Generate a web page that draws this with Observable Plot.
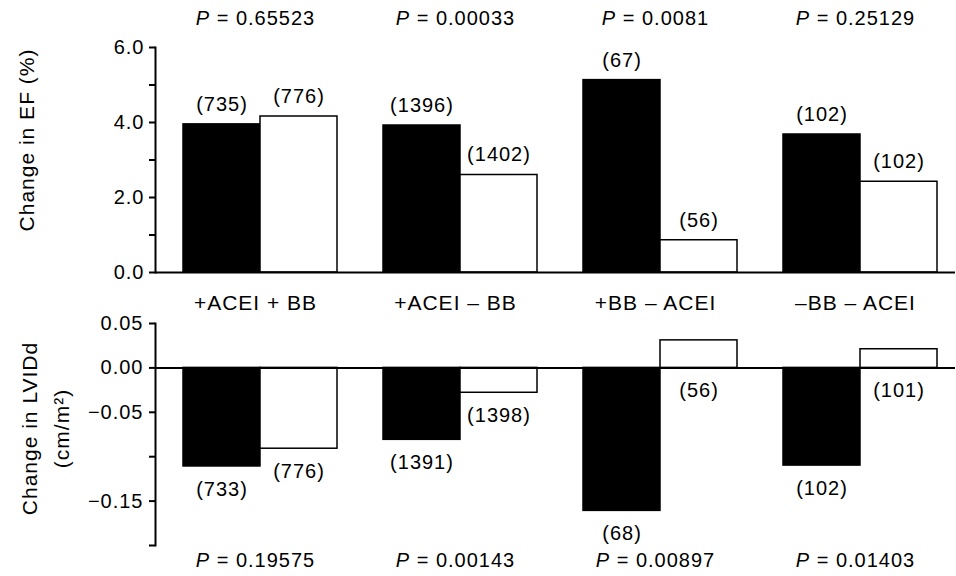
<!DOCTYPE html>
<html><head><meta charset="utf-8">
<script src="https://cdn.jsdelivr.net/npm/d3@7"></script>
<script src="https://cdn.jsdelivr.net/npm/@observablehq/plot@0.6"></script>
<style>
body{margin:0;background:#fff}
#chart svg{display:block}
#chart svg text{letter-spacing:1px}
</style></head><body><div id="chart"></div>
<script>
const groups = ["+ACEI + BB", "+ACEI – BB", "+BB – ACEI", "–BB – ACEI"];
const seriesNames = ["Series A", "Series B"];
const efA = [3.95, 3.92, 5.13, 3.68];
const efB = [4.16, 2.60, 0.86, 2.42];
const efNA = [735, 1396, 67, 102];
const efNB = [776, 1402, 56, 102];
const efP = ["0.65523", "0.00033", "0.0081", "0.25129"];
const lvA = [-0.111, -0.081, -0.161, -0.110];
const lvB = [-0.091, -0.028, 0.031, 0.021];
const lvNA = [733, 1391, 68, 102];
const lvNB = [776, 1398, 56, 101];
const lvP = ["0.19575", "0.00143", "0.00897", "0.01403"];
const efTicks = [0, 1, 2, 3, 4, 5, 6];
const efTickLabels = ["0.0", "", "2.0", "", "4.0", "", "6.0"];
const lvTicks = [0.05, 0, -0.05, -0.10, -0.15, -0.20];
const lvTickLabels = ["0.05", "0.00", "−0.05", "", "−0.15", ""];
const efTitle = "Change in EF (%)";
const lvTitle = "Change in LVIDd\n(cm/m²)";

function rowsOf(a, b, na, nb) {
  const out = [];
  groups.forEach((g, i) => {
    out.push({group: g, series: seriesNames[0], value: a[i], n: na[i]});
    out.push({group: g, series: seriesNames[1], value: b[i], n: nb[i]});
  });
  return out;
}
const efRows = rowsOf(efA, efB, efNA, efNB);
const lvRows = rowsOf(lvA, lvB, lvNA, lvNB);
const efPRows = groups.map((g, i) => ({group: g, p: efP[i]}));
const lvPRows = groups.map((g, i) => ({group: g, p: lvP[i]}));

const FONT = '"Liberation Sans", Arial, Helvetica, sans-serif';
const common = {
  width: 956, marginLeft: 153, marginRight: 0,
  style: {fontFamily: FONT, fontSize: "20px", color: "black", background: "white", overflow: "visible"},
  fx: {domain: groups, paddingInner: 0, paddingOuter: 0, axis: null, label: null},
  x: {domain: seriesNames, paddingInner: 0, paddingOuter: 0.295, align: 0.61, axis: null},
  color: {domain: seriesNames, range: ["black", "white"]}
};

const topPlot = Plot.plot({
  ...common,
  height: 285, marginTop: 47, marginBottom: 13,
  y: {domain: [0, 6], axis: null},
  marks: [
    Plot.barY(efRows, {fx: "group", x: "series", y: "value", fill: "series", stroke: "black", strokeWidth: 1.5}),
    Plot.ruleY([0], {strokeWidth: 2}),
    Plot.axisY({ticks: efTicks, tickFormat: d => efTickLabels[efTicks.indexOf(d)], tickSize: 6, tickPadding: 5, strokeWidth: 2, fontSize: 20, label: null}),
    Plot.frame({anchor: "left", facetAnchor: "left", strokeWidth: 2}),
    Plot.text(efRows, {fx: "group", x: "series", y: "value", text: d => `(${d.n})`, dy: -20, lineAnchor: "middle", fontSize: 20}),
    Plot.text(efPRows, {fx: "group", frameAnchor: "top", text: d => `P = ${d.p}`, dy: -29, lineAnchor: "middle", fontSize: 20}),
    Plot.text([efTitle], {fx: [groups[0]], frameAnchor: "left", text: d => d, textAnchor: "middle", rotate: -90, dx: -128, dy: -20, lineAnchor: "middle", fontSize: 21})
  ]
});

const bottomPlot = Plot.plot({
  ...common,
  height: 291, marginTop: 38, marginBottom: 31,
  y: {domain: [-0.2, 0.05], axis: null},
  marks: [
    Plot.barY(lvRows, {fx: "group", x: "series", y: "value", fill: "series", stroke: "black", strokeWidth: 1.5}),
    Plot.ruleY([0], {strokeWidth: 2}),
    Plot.axisY({ticks: lvTicks, tickFormat: d => lvTickLabels[lvTicks.indexOf(d)], tickSize: 6, tickPadding: 6, strokeWidth: 2, fontSize: 20, label: null}),
    Plot.frame({anchor: "left", facetAnchor: "left", strokeWidth: 2}),
    Plot.text(lvRows, {fx: "group", x: "series", y: d => Math.min(d.value, 0), text: d => `(${d.n})`, dy: 23, lineAnchor: "middle", fontSize: 20}),
    Plot.text(groups, {fx: d => d, frameAnchor: "top", text: d => d, dy: -20, lineAnchor: "middle", fontSize: 21}),
    Plot.text(lvPRows, {fx: "group", frameAnchor: "bottom", text: d => `P = ${d.p}`, dy: 15, lineAnchor: "middle", fontSize: 20}),
    Plot.text([lvTitle], {fx: [groups[0]], frameAnchor: "left", text: d => d, textAnchor: "middle", rotate: -90, dx: -113, dy: -6, lineAnchor: "middle", lineHeight: 1.55, fontSize: 21})
  ]
});

const chart = document.getElementById("chart");
chart.appendChild(topPlot);
chart.appendChild(bottomPlot);

// italicize the "P" of the P-value labels
chart.querySelectorAll("text").forEach(t => {
  const s = t.textContent;
  if (t.children.length === 0 && s.startsWith("P = ")) {
    t.textContent = "";
    const it = document.createElementNS("http://www.w3.org/2000/svg", "tspan");
    it.setAttribute("font-style", "italic");
    it.textContent = "P";
    const rest = document.createElementNS("http://www.w3.org/2000/svg", "tspan");
    rest.textContent = s.slice(1);
    t.appendChild(it);
    t.appendChild(rest);
  }
});
</script></body></html>
